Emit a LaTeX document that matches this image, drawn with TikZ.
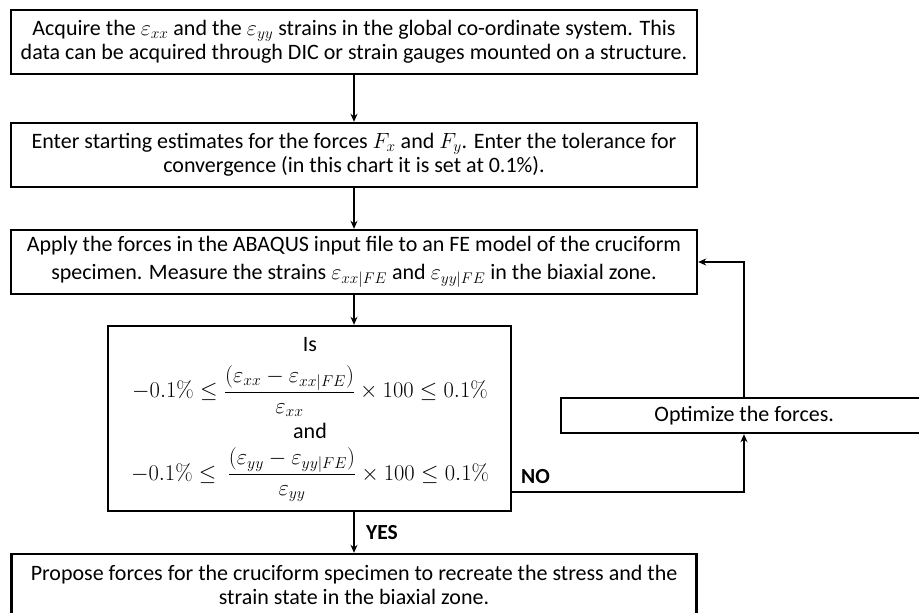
\RequirePackage{fix-cm}
\documentclass[tikz,border=0pt]{standalone}
\usepackage[no-math]{fontspec}
\setmainfont{Carlito}
\usetikzlibrary{arrows.meta}
\begin{document}
\begin{tikzpicture}[x=1pt,y=-1pt,
  every node/.style={font=\fontsize{22}{24.5}\selectfont},
  box/.style={draw, line width=2.4pt, align=center, inner sep=0pt},
  txt/.style={inner sep=0pt, align=center},
  mth/.style={inner sep=0pt, font=\fontsize{22.5}{24}\selectfont},
  lab/.style={inner sep=0pt, font=\fontsize{21.5}{22.5}\selectfont\bfseries},
  arr/.style={-{Stealth[length=8pt,width=7pt]}, line width=2pt}]
\useasboundingbox (0,0) rectangle (919,613);
\clip (0,0) rectangle (919,613);
\node[box, minimum width=686, minimum height=64] (acq) at (354,42)
  {Acquire the $\varepsilon_{xx}$ and the $\varepsilon_{yy}$ strains in the global co-ordinate system. This\\
   data can be acquired through DIC or strain gauges mounted on a structure.};
\node[box, minimum width=686, minimum height=64] (est) at (354,155)
  {Enter starting estimates for the forces $F_x$ and $F_y$. Enter the tolerance for\\
   convergence (in this chart it is set at 0.1\%).};
\node[box, minimum width=686, minimum height=64] (fem) at (354,262)
  {Apply the forces in the ABAQUS input file to an FE model of the cruciform\\[3pt]
   specimen. Measure the strains $\varepsilon_{xx|FE}$ and $\varepsilon_{yy|FE}$ in the biaxial zone.};
\node[box, minimum width=403, minimum height=185] (dec) at (309.5,418.5) {};
\node[txt] (is) at (310,345) {Is};
\node[mth] (ineqx) at (310,391)
  {$\displaystyle -0.1\% \le \frac{\bigl(\varepsilon_{xx}-\varepsilon_{xx|FE}\bigr)}{\varepsilon_{xx}}\times 100 \le 0.1\%$};
\node[txt] (and) at (310,431) {and};
\node[mth] (ineqy) at (310,475)
  {$\displaystyle -0.1\% \le\ \frac{\bigl(\varepsilon_{yy}-\varepsilon_{yy|FE}\bigr)}{\varepsilon_{yy}}\times 100 \le 0.1\%$};
\node[box, minimum width=366, minimum height=35, anchor=west] (opt) at (560,415.5) {Optimize the forces.};
\node[box, minimum width=685, minimum height=62] (prop) at (354,585)
  {Propose forces for the cruciform specimen to recreate the stress and the\\
   strain state in the biaxial zone.};
\coordinate (loopx) at (744,0);
\draw[arr] (acq) -- (est);
\draw[arr] (est) -- (fem);
\draw[arr] (fem.south) -- (fem.south |- dec.north);
\draw[arr] (fem.south |- dec.south) -- (fem.south |- prop.north);
\node[lab, anchor=west] (yes) at (366,533) {YES};
\draw[arr] ([yshift=20pt]dec.south east) -| (opt.south -| loopx);
\node[lab, anchor=west] (no) at (521,477) {NO};
\draw[arr] (opt.north -| loopx) |- (fem.east);
\end{tikzpicture}
\end{document}
